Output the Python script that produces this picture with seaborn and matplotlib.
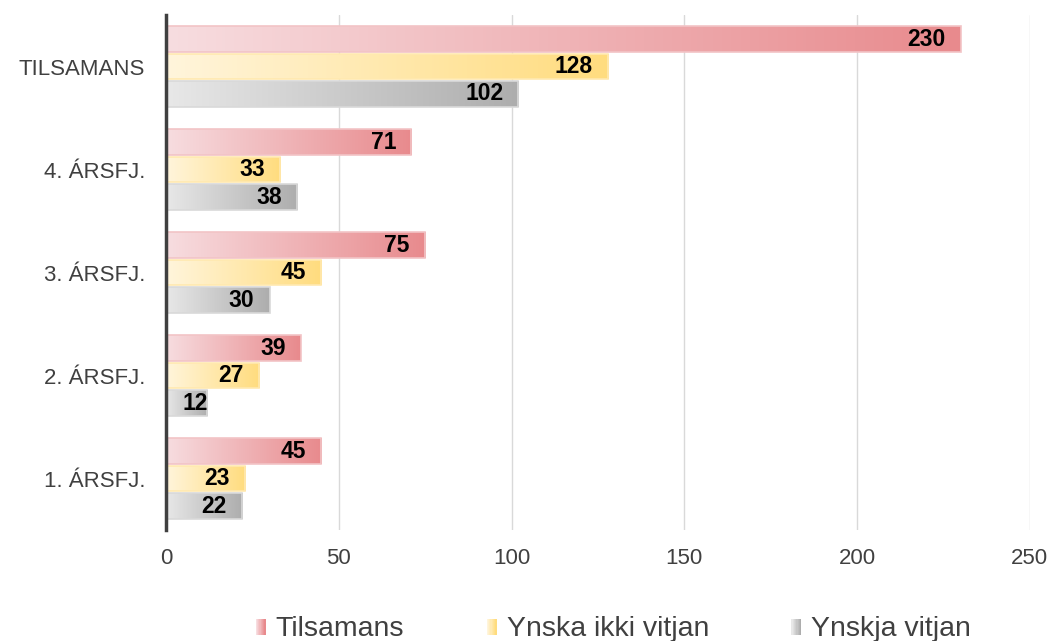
import numpy as np
import pandas as pd
import seaborn as sns
import matplotlib
import matplotlib.pyplot as plt
from matplotlib.colors import LinearSegmentedColormap
from matplotlib.legend_handler import HandlerBase
from matplotlib.patches import Rectangle

# data
categories = ["TILSAMANS", "4. ÁRSFJ.", "3. ÁRSFJ.", "2. ÁRSFJ.", "1. ÁRSFJ."]
series = ["Tilsamans", "Ynska ikki vitjan", "Ynskja vitjan"]
tilsamans = [230, 71, 75, 39, 45]
ynska_ikki_vitjan = [128, 33, 45, 27, 23]
ynskja_vitjan = [102, 38, 30, 12, 22]

# gradient colours (light -> dark) per series
gradients = {
    "Tilsamans": ("#F7DDE0", "#E88A8D"),
    "Ynska ikki vitjan": ("#FFF5DC", "#FFDC7E"),
    "Ynskja vitjan": ("#E8E8E8", "#ADADAD"),
}
edges = {
    "Tilsamans": "#F2C4C6",
    "Ynska ikki vitjan": "#FFE9B0",
    "Ynskja vitjan": "#D9D9D9",
}

df = pd.DataFrame({
    "cat": categories * 3,
    "series": [s for s in series for _ in categories],
    "value": tilsamans + ynska_ikki_vitjan + ynskja_vitjan,
})

sns.set_style("white")
plt.rcParams["font.family"] = ["Liberation Sans", "DejaVu Sans"]

fig = plt.figure(figsize=(10.54, 6.41), dpi=100)
ax = fig.add_axes([0.1575, 0.173, 0.8195, 0.8036])

sns.barplot(data=df, y="cat", x="value", hue="series", order=categories,
            hue_order=series, orient="h", width=0.8, gap=0.07, ax=ax,
            legend=False, errorbar=None)

# replace flat fills with horizontal gradients
grad = np.linspace(0, 1, 256).reshape(1, -1)
for i, s in enumerate(series):
    cmap = LinearSegmentedColormap.from_list(s, gradients[s])
    bars = ax.containers[i]
    for p in bars.patches:
        x0, y0 = p.get_x(), p.get_y()
        w, h = p.get_width(), p.get_height()
        p.set_facecolor("none")
        p.set_edgecolor(edges[s])
        p.set_linewidth(1.2)
        p.set_zorder(3)
        im = ax.imshow(grad, cmap=cmap, aspect="auto",
                       extent=[x0, x0 + w, y0 + h, y0], zorder=2)
        im.set_clip_path(p)
        val = int(round(w))
        off = -11 if val >= 20 else 0
        ax.annotate(f"{val}", (x0 + w, y0 + h / 2), xytext=(off, 0),
                    textcoords="offset points", ha="right", va="center",
                    fontsize=16.5, fontweight="bold", color="black", zorder=4)

ax.set_xlim(0, 250)
ax.set_ylim(4.5, -0.5)

ax.set_xticks([0, 50, 100, 150, 200, 250])
ax.grid(axis="x", color="#D9D9D9", linewidth=1)
ax.set_axisbelow(True)
ax.tick_params(axis="both", length=0, labelsize=16, colors="#404040")
ax.tick_params(axis="x", pad=13)
ax.tick_params(axis="y", pad=15)
ax.set_xlabel("")
ax.set_ylabel("")
for side in ["top", "right", "bottom"]:
    ax.spines[side].set_visible(False)
ax.spines["left"].set_color("#404040")
ax.spines["left"].set_linewidth(2.5)
ax.spines["left"].set_zorder(5)


class GradientHandler(HandlerBase):
    def create_artists(self, legend, orig_handle, xdescent, ydescent,
                       width, height, fontsize, trans):
        c0, c1 = orig_handle
        cmap = LinearSegmentedColormap.from_list("h", [c0, c1])
        n = 8
        hh = fontsize * 0.55
        yb = -ydescent + (height - hh) / 2 - 1
        artists = []
        for k in range(n):
            r = Rectangle((xdescent + width * k / n, yb), width / n, hh,
                          facecolor=cmap(k / (n - 1)), edgecolor="none",
                          transform=trans)
            artists.append(r)
        return artists


handles = [gradients[s] for s in series]
fig.legend(handles, series, handler_map={tuple: GradientHandler()},
           loc="center", bbox_to_anchor=(0.582, 0.019), ncol=3,
           frameon=False, fontsize=20.5, handlelength=0.35, handleheight=0.7,
           handletextpad=0.35, columnspacing=2.9, labelcolor="#404040",
           borderpad=0)

fig.savefig("out.png", dpi=100)
